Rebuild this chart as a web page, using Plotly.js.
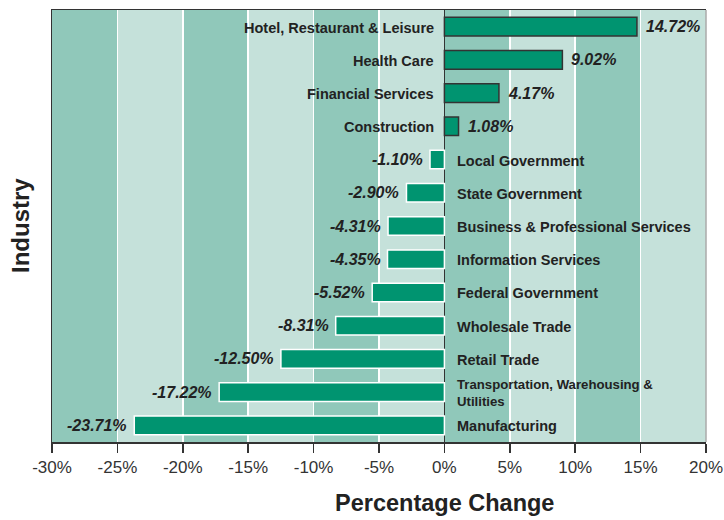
<!DOCTYPE html>
<html>
<head>
<meta charset="utf-8">
<script src="https://cdn.plot.ly/plotly-3.0.1.min.js"></script>
<style>html,body{margin:0;padding:0;background:#fff;}#chart{width:724px;height:520px;}</style>
</head>
<body>
<div id="chart"></div>
<script>
const industries = [
  "Hotel, Restaurant & Leisure",
  "Health Care",
  "Financial Services",
  "Construction",
  "Local Government",
  "State Government",
  "Business & Professional Services",
  "Information Services",
  "Federal Government",
  "Wholesale Trade",
  "Retail Trade",
  "Transportation, Warehousing &<br>Utilities",
  "Manufacturing"
];
const changes = [14.72, 9.02, 4.17, 1.08, -1.10, -2.90, -4.31, -4.35, -5.52, -8.31, -12.50, -17.22, -23.71];
const xTickVals = [-30, -25, -20, -15, -10, -5, 0, 5, 10, 15, 20];
const xTickText = ["-30%", "-25%", "-20%", "-15%", "-10%", "-5%", "0%", "5%", "10%", "15%", "20%"];

const barColor = "#009470";
const darkBand = "#90C8BA";
const lightBand = "#C5E1DA";
const textColor = "#222222";
const fontFam = "Liberation Sans, Arial, Helvetica, sans-serif";

const trace = {
  type: "bar",
  orientation: "h",
  x: changes,
  y: industries,
  width: 0.56,
  marker: {
    color: barColor,
    line: {
      color: changes.map(v => v >= 0 ? "#333333" : "#ffffff"),
      width: 1.5
    }
  },
  hoverinfo: "skip"
};

const shapes = [];
for (let i = 0; i < xTickVals.length - 1; i++) {
  shapes.push({
    type: "rect", xref: "x", yref: "paper", layer: "below",
    x0: xTickVals[i], x1: xTickVals[i + 1], y0: 0, y1: 1,
    fillcolor: (i % 2 === 0) ? darkBand : lightBand,
    line: { width: 0 }
  });
}
// right border
shapes.push({ type: "line", xref: "paper", yref: "paper", x0: 1, x1: 1, y0: 0, y1: 1,
  line: { color: "#aaaaaa", width: 1.5 } });

const annotations = [];
industries.forEach((name, i) => {
  const v = changes[i];
  const isTransport = name.indexOf("<br>") >= 0;
  annotations.push({
    xref: "x", yref: "y", x: 0, y: name,
    text: name,
    showarrow: false,
    xanchor: v >= 0 ? "right" : "left",
    xshift: v >= 0 ? -8 : 11,
    yshift: -1,
    align: "left",
    font: { family: fontFam, size: isTransport ? 13.2 : 14.5, color: textColor, weight: "bold" }
  });
  annotations.push({
    xref: "x", yref: "y", x: v, y: name,
    text: v.toFixed(2) + "%",
    showarrow: false,
    xanchor: v >= 0 ? "left" : "right",
    xshift: v >= 0 ? 7 : -5,
    font: { family: fontFam, size: 16, color: textColor, weight: "bold", style: "italic" }
  });
});
annotations.push({
  xref: "x", yref: "paper", x: 0, y: 0, yshift: -61,
  text: "Percentage Change", showarrow: false, xanchor: "center", yanchor: "middle",
  font: { family: fontFam, size: 23.5, color: textColor, weight: "bold" }
});
annotations.push({
  xref: "paper", yref: "paper", x: -32 / 654, y: 0.5, textangle: -90,
  text: "Industry", showarrow: false, xanchor: "center", yanchor: "middle",
  font: { family: fontFam, size: 24, color: textColor, weight: "bold" }
});

const layout = {
  width: 724, height: 520,
  margin: { l: 52, r: 18, t: 10, b: 78 },
  paper_bgcolor: "#ffffff",
  plot_bgcolor: lightBand,
  showlegend: false,
  bargap: 0.44,
  xaxis: {
    range: [-30, 20],
    tickvals: xTickVals,
    ticktext: xTickText,
    ticklabeloverflow: "allow",
    showgrid: true, gridcolor: "#ffffff", gridwidth: 1.5,
    zeroline: true, zerolinecolor: "#333333", zerolinewidth: 1.5,
    showline: true, linecolor: "#333333", linewidth: 1.5, mirror: true,
    ticks: "outside", ticklen: 9, tickwidth: 1.5, tickcolor: "#333333",
    tickfont: { family: fontFam, size: 17, color: "#333333" },
    fixedrange: true
  },
  yaxis: {
    type: "category",
    categoryorder: "array",
    categoryarray: industries,
    autorange: "reversed",
    showticklabels: false,
    showgrid: false,
    showline: true, linecolor: "#333333", linewidth: 1.5,
    ticks: "",
    fixedrange: true
  },
  shapes: shapes,
  annotations: annotations
};

Plotly.newPlot("chart", [trace], layout, { displayModeBar: false, staticPlot: true });
</script>
</body>
</html>
